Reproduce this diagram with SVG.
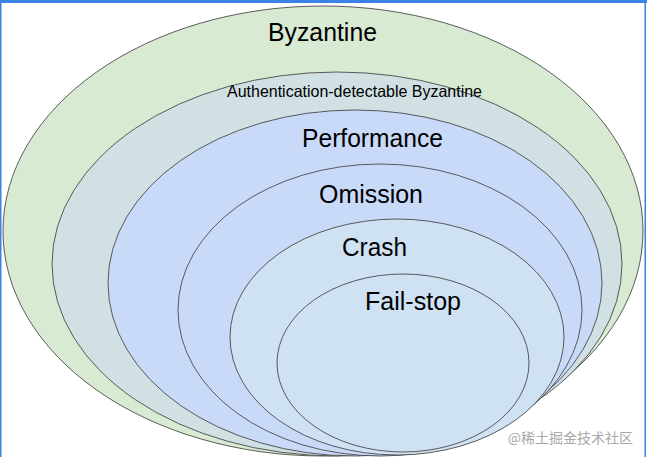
<svg xmlns="http://www.w3.org/2000/svg" width="647" height="457" viewBox="0 0 647 457">
<style>
.e{stroke:#4a4a4a;stroke-width:0.9}
.t{font-family:"Liberation Sans",Arial,sans-serif;fill:#000;text-anchor:middle}
.big{font-size:26.5px}
.small{font-size:16.5px}
.wm{font-family:"Noto Sans CJK SC",sans-serif;font-size:14px;fill:#a8a8a8;text-anchor:end}
</style>
<rect x="0" y="0" width="647" height="457" fill="#ffffff"/>
<g id="byzantine">
<ellipse class="e" cx="323" cy="231" rx="320" ry="225" fill="#d9ead3"/>
<text class="t big" x="322.5" y="41" textLength="109" lengthAdjust="spacingAndGlyphs">Byzantine</text>
</g>
<g id="auth-byzantine">
<ellipse class="e" cx="337" cy="264" rx="285" ry="192" fill="#d0e0e3"/>
<text class="t small" x="354.5" y="97" textLength="255" lengthAdjust="spacingAndGlyphs">Authentication-detectable Byzantine</text>
</g>
<g id="performance">
<ellipse class="e" cx="355" cy="283" rx="247" ry="173" fill="#c9daf8"/>
<text class="t big" x="372.5" y="147" textLength="141" lengthAdjust="spacingAndGlyphs">Performance</text>
</g>
<g id="omission">
<ellipse class="e" cx="380" cy="310" rx="202" ry="146" fill="#c9daf8"/>
<text class="t big" x="371" y="203" textLength="104" lengthAdjust="spacingAndGlyphs">Omission</text>
</g>
<g id="crash">
<ellipse class="e" cx="397" cy="337" rx="167" ry="118" fill="#cfe2f3"/>
<text class="t big" x="374.5" y="256" textLength="65" lengthAdjust="spacingAndGlyphs">Crash</text>
</g>
<g id="fail-stop">
<ellipse class="e" cx="403" cy="363" rx="126" ry="89" fill="#cfe2f3"/>
<text class="t big" x="413" y="310" textLength="96" lengthAdjust="spacingAndGlyphs">Fail-stop</text>
</g>
<g id="connectors"></g>
<text class="wm" x="633" y="443">@稀土掘金技术社区</text>
<rect x="0" y="0" width="647" height="3" fill="#3b82e6"/>
<rect x="0" y="0" width="1.5" height="457" fill="#3b82e6"/>
<rect x="644.5" y="0" width="1.5" height="457" fill="#3b82e6"/>
</svg>
